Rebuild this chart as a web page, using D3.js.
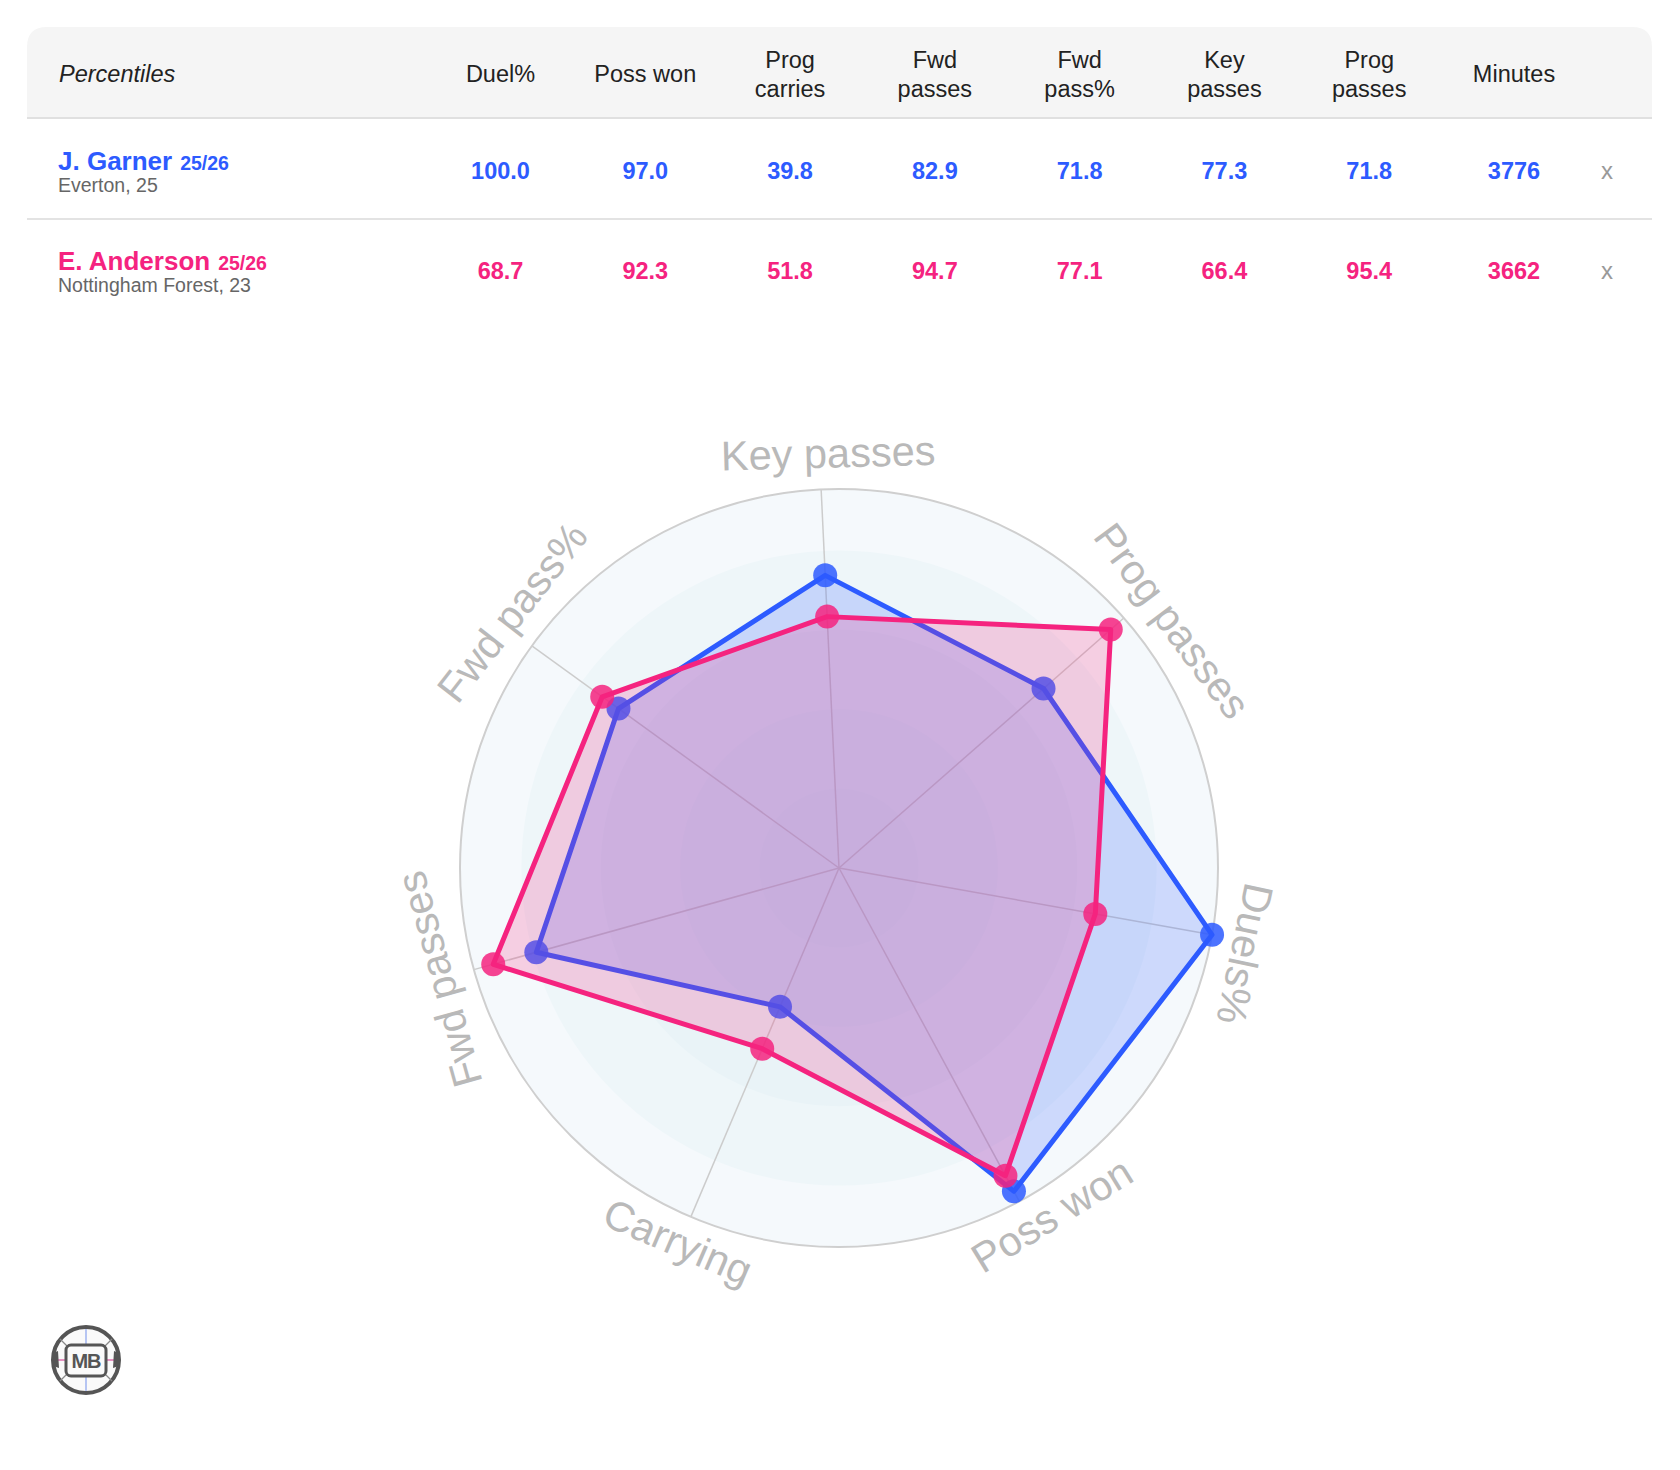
<!DOCTYPE html>
<html>
<head>
<meta charset="utf-8">
<script src="https://cdn.jsdelivr.net/npm/d3@7"></script>
<style>
  html, body { margin: 0; padding: 0; background: #ffffff; }
  svg { display: block; font-family: "Liberation Sans", Arial, Helvetica, sans-serif; }
</style>
</head>
<body>
<svg id="chart" width="1680" height="1470"></svg>
<script>
// ---------------- DATA ----------------
const columns = ["Duel%", "Poss won", "Prog carries", "Fwd passes", "Fwd pass%", "Key passes", "Prog passes", "Minutes"];
const headerLines = [["Duel%"], ["Poss won"], ["Prog", "carries"], ["Fwd", "passes"], ["Fwd", "pass%"], ["Key", "passes"], ["Prog", "passes"], ["Minutes"]];
const players = ["J. Garner", "E. Anderson"];
const seasons = ["25/26", "25/26"];
const subtitles = ["Everton, 25", "Nottingham Forest, 23"];
const garnerValues = [100.0, 97.0, 39.8, 82.9, 71.8, 77.3, 71.8, 3776];
const andersonValues = [68.7, 92.3, 51.8, 94.7, 77.1, 66.4, 95.4, 3662];
const radarLabels = ["Key passes", "Prog passes", "Duels%", "Poss won", "Carrying", "Fwd passes", "Fwd pass%"];
const radarKeys = ["Key passes", "Prog passes", "Duel%", "Poss won", "Prog carries", "Fwd passes", "Fwd pass%"];
const ringLevels = [20, 40, 60, 80, 100];

// ---------------- STYLE ----------------
const colors = ["#2d5bff", "#f5237f"];
const ringFills = ["#f5f9fc", "#eef6f9", "#e9f3f7", "#e5f1f5", "#e1eff4"];
// small angular nudges (degrees) of each axis label relative to its axis
const labelShift = [1.2, 4.7, 1.8, -3.1, 0.3, 0.0, 2.2];

const svg = d3.select("#chart");

// ---------------- TABLE ----------------
const tx0 = 27, tx1 = 1652, ty0 = 27, tHead = 118, cr = 20;
svg.append("path")
  .attr("d", `M${tx0},${tHead} L${tx0},${ty0 + cr} Q${tx0},${ty0} ${tx0 + cr},${ty0} L${tx1 - cr},${ty0} Q${tx1},${ty0} ${tx1},${ty0 + cr} L${tx1},${tHead} Z`)
  .attr("fill", "#f5f5f5");
svg.append("rect").attr("x", tx0).attr("y", tHead - 1).attr("width", tx1 - tx0).attr("height", 2).attr("fill", "#e0e0e0");
svg.append("rect").attr("x", tx0).attr("y", 218).attr("width", tx1 - tx0).attr("height", 2).attr("fill", "#e3e3e3");

svg.append("text").attr("x", 59).attr("y", 82)
  .attr("font-size", 23.5).attr("font-style", "italic").attr("fill", "#222").text("Percentiles");

const colX = d3.scalePoint().domain(columns).range([500.5, 1514]);

columns.forEach((c, i) => {
  const lines = headerLines[i];
  const t = svg.append("text").attr("x", colX(c)).attr("text-anchor", "middle")
    .attr("font-size", 23.5).attr("fill", "#222");
  if (lines.length === 1) {
    t.attr("y", 82).text(lines[0]);
  } else {
    t.attr("y", 68);
    lines.forEach((l, j) => t.append("tspan").attr("x", colX(c)).attr("dy", j === 0 ? 0 : 28.5).text(l));
  }
});

const rowValues = [garnerValues, andersonValues];
players.forEach((p, r) => {
  const base = 100 * r;
  const nameT = svg.append("text").attr("x", 58).attr("y", 169.5 + base)
    .attr("font-size", 26).attr("font-weight", "bold").attr("fill", colors[r]).text(p);
  const w = nameT.node().getComputedTextLength();
  svg.append("text").attr("x", 58 + w + 8).attr("y", 169.5 + base)
    .attr("font-size", 19.5).attr("font-weight", "bold").attr("fill", colors[r]).text(seasons[r]);
  svg.append("text").attr("x", 58).attr("y", 191.5 + base)
    .attr("font-size", 19.5).attr("fill", "#666").text(subtitles[r]);
  columns.forEach((c, i) => {
    const v = rowValues[r][i];
    svg.append("text").attr("x", colX(c)).attr("y", 178.5 + base).attr("text-anchor", "middle")
      .attr("font-size", 23.5).attr("font-weight", "bold").attr("fill", colors[r])
      .text(c === "Minutes" ? d3.format("d")(v) : d3.format(".1f")(v));
  });
  svg.append("text").attr("x", 1607).attr("y", 179 + base).attr("text-anchor", "middle")
    .attr("font-size", 24).attr("fill", "#999").text("x");
});

// ---------------- RADAR ----------------
const cx = 839, cy = 868, R = 379;
const rScale = d3.scaleLinear().domain([0, 100]).range([0, R]);
const offsetDeg = -2.7;
const angle = d3.scaleLinear().domain([0, radarLabels.length]).range([offsetDeg * Math.PI / 180, offsetDeg * Math.PI / 180 + 2 * Math.PI]);

const g = svg.append("g").attr("transform", `translate(${cx},${cy})`);

// background rings (outer to inner)
const ringScale = d3.scaleLinear().domain([0, 100]).range([0, 397]);
[...ringLevels].reverse().forEach((lv, i) => {
  g.append("circle").attr("r", lv === 100 ? R : ringScale(lv)).attr("fill", ringFills[i]);
});

const pt = (i, v) => {
  const a = angle(i);
  return [Math.sin(a) * rScale(v), -Math.cos(a) * rScale(v)];
};

// spokes
radarLabels.forEach((l, i) => {
  const [x, y] = pt(i, 100);
  g.append("line").attr("x1", 0).attr("y1", 0).attr("x2", x).attr("y2", y)
    .attr("stroke", "#cccccc").attr("stroke-width", 1.5);
});
g.append("circle").attr("r", R).attr("fill", "none").attr("stroke", "#cfcfcf").attr("stroke-width", 2);

// polygons
const seriesList = [garnerValues, andersonValues];
const line = d3.line().curve(d3.curveLinearClosed);
seriesList.forEach((vals, s) => {
  const pts = radarKeys.map((k, i) => pt(i, vals[columns.indexOf(k)]));
  g.append("path").attr("d", line(pts))
    .attr("fill", colors[s]).attr("fill-opacity", 0.2)
    .attr("stroke", colors[s]).attr("stroke-width", 5).attr("stroke-linejoin", "round");
  g.selectAll(null).data(pts).enter().append("circle")
    .attr("cx", d => d[0]).attr("cy", d => d[1]).attr("r", 12)
    .attr("fill", colors[s]).attr("fill-opacity", 0.85);
});

// labels (straight, tangent to the circle, flipped at the bottom)
radarLabels.forEach((l, i) => {
  const a = angle(i) + labelShift[i] * Math.PI / 180;
  const flip = Math.cos(a) < -0.5;
  const rl = flip ? R + 28 : R + 36;
  let deg = a * 180 / Math.PI;
  if (flip) deg -= 180;
  const x = Math.sin(a) * rl, y = -Math.cos(a) * rl;
  g.append("text")
    .attr("transform", `translate(${x},${y}) rotate(${deg})`)
    .attr("text-anchor", "middle").attr("dominant-baseline", "central")
    .attr("font-size", 41.5).attr("fill", "#b9b9b9").text(l);
});

// ---------------- LOGO ----------------
const lg = svg.append("g").attr("transform", "translate(86,1360)");
lg.append("circle").attr("r", 33).attr("fill", "#fafafa").attr("stroke", "#555").attr("stroke-width", 4);
lg.append("line").attr("x1", 0).attr("y1", -31).attr("x2", 0).attr("y2", -15).attr("stroke", "#9fb3f0").attr("stroke-width", 1.5);
lg.append("line").attr("x1", 0).attr("y1", 15).attr("x2", 0).attr("y2", 31).attr("stroke", "#9fb3f0").attr("stroke-width", 1.5);
lg.append("line").attr("x1", -31).attr("y1", 0).attr("x2", -20).attr("y2", 0).attr("stroke", "#e070b0").attr("stroke-width", 1.5);
lg.append("line").attr("x1", 20).attr("y1", 0).attr("x2", 31).attr("y2", 0).attr("stroke", "#e070b0").attr("stroke-width", 1.5);
[[-1, -1], [1, -1], [-1, 1], [1, 1]].forEach(([sx, sy]) => {
  lg.append("line").attr("x1", sx * 19).attr("y1", sy * 14).attr("x2", sx * 26).attr("y2", sy * 21)
    .attr("stroke", "#888").attr("stroke-width", 1.2);
});
lg.append("path").attr("d", "M-33,-7 L-28,-9 L-27,8 L-33,6 Z").attr("fill", "#555");
lg.append("path").attr("d", "M33,-7 L28,-9 L27,8 L33,6 Z").attr("fill", "#555");
lg.append("rect").attr("x", -20).attr("y", -15).attr("width", 40).attr("height", 31).attr("rx", 5)
  .attr("fill", "#fafafa").attr("stroke", "#555").attr("stroke-width", 3);
lg.append("text").attr("x", 0).attr("y", 8).attr("text-anchor", "middle")
  .attr("font-size", 20).attr("font-weight", "bold").attr("fill", "#555").attr("letter-spacing", -1).text("MB");
</script>
</body>
</html>
